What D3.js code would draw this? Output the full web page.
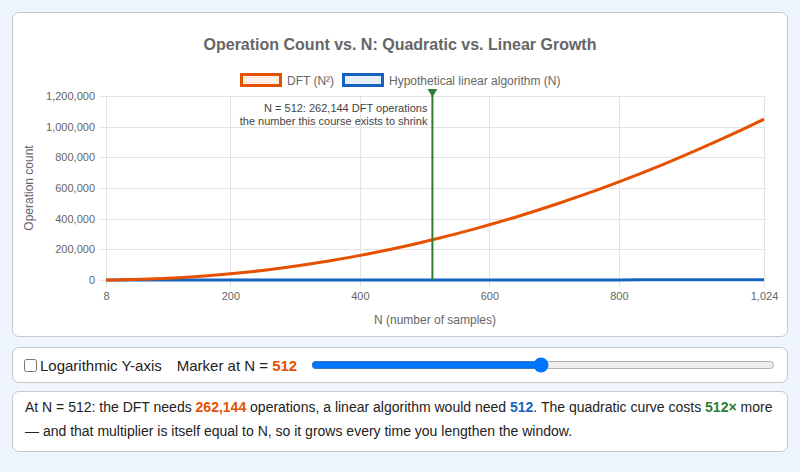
<!DOCTYPE html>
<html>
<head>
<meta charset="utf-8">
<script src="https://cdn.jsdelivr.net/npm/d3@7"></script>
<style>
  html, body { margin: 0; padding: 0; }
  body {
    width: 800px; height: 472px; overflow: hidden;
    background: #eef5fd;
    font-family: "Liberation Sans", Arial, Helvetica, sans-serif;
    color: #222;
  }
  .card {
    position: absolute; left: 12px; width: 774px;
    background: #fff; border: 1px solid #c8c8c8; border-radius: 7px;
  }
  #chart-card { top: 12px; height: 323px; }
  #ctrl-card { top: 347px; height: 34px; display: flex; align-items: center; font-size: 15px; }
  #text-card { top: 391px; height: 59px; font-size: 14px; line-height: 24px; }
  #ctrl-card label { display: flex; align-items: center; margin-left: 11px; }
  #ctrl-card input[type=checkbox] { margin: 0 3px 0 0; width: 13px; height: 13px; }
  #marker-label { margin-left: 15px; }
  #ctrl-card input[type=range] { margin: 0 12px 0 14px; flex: 1; }
  #text-card p { margin: 0; padding: 3px 12px; }
  .dft { color: #e65100; font-weight: bold; }
  .lin { color: #1565c0; font-weight: bold; }
  .mul { color: #2e7d32; font-weight: bold; }
  svg text { font-family: "Liberation Sans", Arial, Helvetica, sans-serif; }
</style>
</head>
<body>
<div class="card" id="chart-card"><svg id="chart" width="774" height="323"></svg></div>
<div class="card" id="ctrl-card">
  <label><input type="checkbox" id="logy">Logarithmic Y-axis</label>
  <span id="marker-label">Marker at N = <span class="dft" id="mval">512</span></span>
  <input type="range" id="slider" min="8" max="1024" step="8" value="512">
</div>
<div class="card" id="text-card">
  <p id="summary"></p>
</div>
<script>
// sample sizes along the x axis
const sampleN = [8, 16, 32, 64, 96, 128, 160, 192, 224, 256, 288, 320, 352, 384, 416, 448, 480,
  512, 544, 576, 608, 640, 672, 704, 736, 768, 800, 832, 864, 896, 928, 960, 992, 1024];
// DFT operation count (N^2)
const dftOps = [64, 256, 1024, 4096, 9216, 16384, 25600, 36864, 50176, 65536, 82944, 102400,
  123904, 147456, 173056, 200704, 230400, 262144, 295936, 331776, 369664, 409600, 451584,
  495616, 541696, 589824, 640000, 692224, 746496, 802816, 861184, 921600, 984064, 1048576];
// hypothetical linear algorithm (N)
const linearOps = [8, 16, 32, 64, 96, 128, 160, 192, 224, 256, 288, 320, 352, 384, 416, 448, 480,
  512, 544, 576, 608, 640, 672, 704, 736, 768, 800, 832, 864, 896, 928, 960, 992, 1024];
const xTicks = [8, 200, 400, 600, 800, 1024];
const yTicks = [0, 200000, 400000, 600000, 800000, 1000000, 1200000];
const markerN = 512;
const markerOps = 262144;
const markerLinear = 512;

const svg = d3.select("#chart");
const pLeft = 93, pRight = 751, pTop = 83, pBottom = 267;   // plot box
const fmt = d3.format(",");

const x = d3.scaleLinear().domain([8, 1024]).range([pLeft, pRight]);
const y = d3.scaleLinear().domain([0, 1200000]).range([pBottom, pTop]);

// title
svg.append("text")
  .attr("x", 387).attr("y", 37)
  .attr("text-anchor", "middle")
  .attr("font-size", 16).attr("font-weight", "bold").attr("fill", "#666")
  .text("Operation Count vs. N: Quadratic vs. Linear Growth");

// legend
const legend = [
  { name: "DFT (N²)", color: "#e65100", fill: "rgba(230,81,0,0.1)", x: 228 },
  { name: "Hypothetical linear algorithm (N)", color: "#1565c0", fill: "rgba(21,101,192,0.1)", x: 330 }
];
const lg = svg.selectAll(".lg").data(legend).join("g").attr("class", "lg")
  .attr("transform", d => `translate(${d.x},61)`);
lg.append("rect").attr("x", 0.5).attr("y", 0.5).attr("width", 39).attr("height", 11)
  .attr("fill", d => d.fill).attr("stroke", d => d.color).attr("stroke-width", 3);
lg.append("text").attr("x", 46).attr("y", 10.5)
  .attr("font-size", 12).attr("fill", "#666").text(d => d.name);

// grid
const gridColor = "#e4e4e4";
svg.append("g").selectAll("line").data(yTicks).join("line")
  .attr("x1", pLeft - 7).attr("x2", pRight)
  .attr("y1", d => Math.round(y(d)) + 0.5).attr("y2", d => Math.round(y(d)) + 0.5)
  .attr("stroke", gridColor);
svg.append("g").selectAll("line").data(xTicks).join("line")
  .attr("x1", d => Math.round(x(d)) + 0.5).attr("x2", d => Math.round(x(d)) + 0.5)
  .attr("y1", pTop).attr("y2", pBottom + 7)
  .attr("stroke", gridColor);

// axes labels
const yAxis = d3.axisLeft(y).tickValues(yTicks).tickFormat(fmt).tickSize(0).tickPadding(11);
const gy = svg.append("g").attr("transform", `translate(${pLeft},0)`).call(yAxis);
gy.select(".domain").remove();
gy.selectAll("text").attr("font-size", 11).attr("fill", "#666")
  .attr("font-family", "Liberation Sans, Arial, sans-serif");

const xAxis = d3.axisBottom(x).tickValues(xTicks).tickFormat(fmt).tickSize(0).tickPadding(12);
const gx = svg.append("g").attr("transform", `translate(0,${pBottom})`).call(xAxis);
gx.select(".domain").remove();
gx.selectAll("text").attr("font-size", 11).attr("fill", "#666")
  .attr("font-family", "Liberation Sans, Arial, sans-serif");

svg.append("text")
  .attr("transform", `translate(20,${(pTop + pBottom) / 2}) rotate(-90)`)
  .attr("text-anchor", "middle").attr("font-size", 12).attr("fill", "#666")
  .text("Operation count");
svg.append("text")
  .attr("x", (pLeft + pRight) / 2).attr("y", 311)
  .attr("text-anchor", "middle").attr("font-size", 12).attr("fill", "#666")
  .text("N (number of samples)");

// series
const line = d3.line().curve(d3.curveMonotoneX);
svg.append("path")
  .attr("d", line(sampleN.map((n, i) => [x(n), y(linearOps[i])])))
  .attr("fill", "none").attr("stroke", "#1565c0").attr("stroke-width", 3);
svg.append("path")
  .attr("d", line(sampleN.map((n, i) => [x(n), y(dftOps[i])])))
  .attr("fill", "none").attr("stroke", "#e65100").attr("stroke-width", 3);

// marker
const mx = x(markerN);
svg.append("line")
  .attr("x1", mx).attr("x2", mx).attr("y1", pTop - 2).attr("y2", y(0))
  .attr("stroke", "#2e7d32").attr("stroke-width", 2);
svg.append("path")
  .attr("d", `M${mx - 5},${pTop - 7}L${mx + 5},${pTop - 7}L${mx},${pTop + 1}Z`)
  .attr("fill", "#2e7d32");
svg.append("text")
  .attr("x", mx - 5).attr("y", pTop + 16)
  .attr("text-anchor", "end").attr("font-size", 11).attr("fill", "#444")
  .text(`N = ${markerN}: ${fmt(markerOps)} DFT operations`);
svg.append("text")
  .attr("x", mx - 5).attr("y", pTop + 29)
  .attr("text-anchor", "end").attr("font-size", 11).attr("fill", "#444")
  .text("the number this course exists to shrink");

// summary text
d3.select("#summary").html(
  `At N = ${markerN}: the DFT needs <span class="dft">${fmt(markerOps)}</span> operations, ` +
  `a linear algorithm would need <span class="lin">${markerLinear}</span>. ` +
  `The quadratic curve costs <span class="mul">${markerOps / markerLinear}×</span> more ` +
  `— and that multiplier is itself equal to N, so it grows every time you lengthen the window.`
);
</script>
</body>
</html>
